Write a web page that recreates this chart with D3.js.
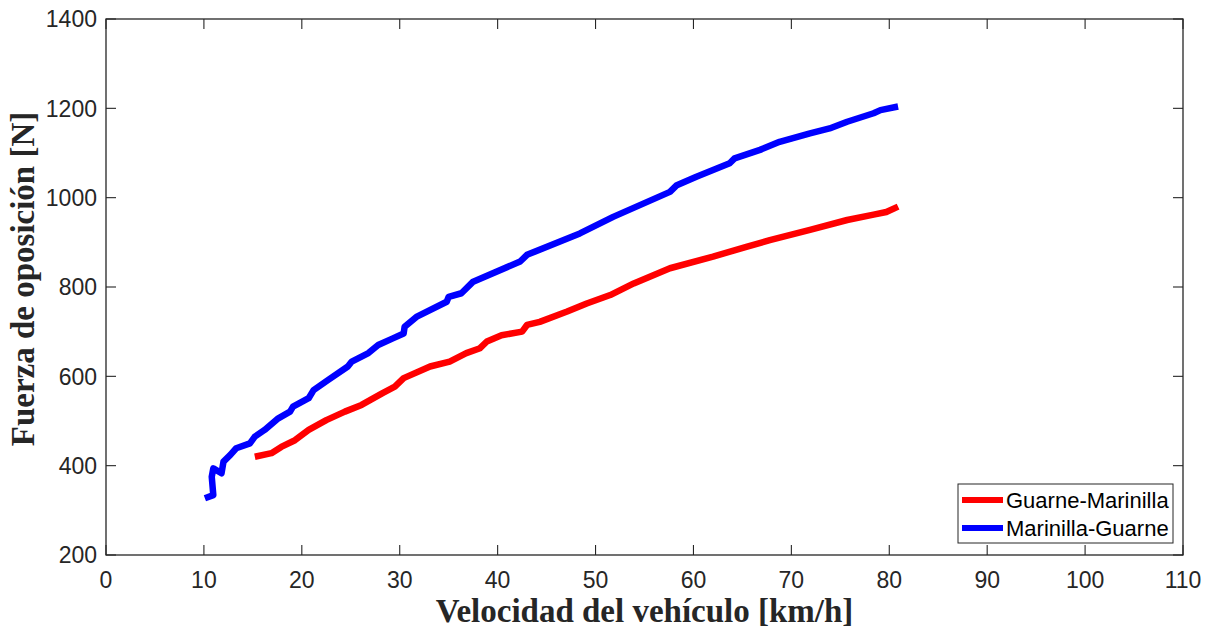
<!DOCTYPE html>
<html>
<head>
<meta charset="utf-8">
<script src="https://cdn.jsdelivr.net/npm/d3@7"></script>
<style>
	body { margin: 0; background: #fff; }
	svg text { fill: #262626; }
</style>
</head>
<body>
<div id="chart"></div>
<script>
// Guarne-Marinilla (red)
var gmSpeed = [15.2, 16.9, 17.9, 19.3, 20.7, 22.5, 24.4, 26.1, 28.2, 29.5, 30.4, 33.1, 35.1, 36.8, 38.2, 38.9, 40.4, 42.5, 43, 44.3, 47.1, 49.1, 51.5, 53.9, 57.6, 62, 65.4, 67.8, 71.9, 75.7, 78.4, 79.7, 80.9];
var gmForce = [420, 428, 442, 457, 480, 502, 521, 536, 562, 577, 596, 622, 633, 652, 663, 678, 692, 700, 715, 722, 745, 763, 782, 808, 842, 868, 890, 905, 928, 950, 962, 968, 980];
// Marinilla-Guarne (blue)
var mgSpeed = [10.1, 10.96, 10.8, 10.96, 11.8, 12, 12.7, 13.3, 14.7, 15.2, 16.2, 17.6, 18.8, 19.1, 20.7, 21.2, 22.7, 24.7, 25.1, 26.8, 27.8, 29.3, 30.4, 30.5, 31.7, 34.8, 35, 36.3, 37.5, 42.3, 43, 48.4, 51.8, 57.6, 58.3, 60.3, 63.7, 64.2, 66.8, 68.8, 71.9, 73.9, 75.7, 78.4, 79.1, 80.9];
var mgForce = [327, 334, 375, 394, 383, 409, 424, 439, 450, 465, 480, 506, 521, 532, 551, 569, 592, 622, 633, 652, 670, 685, 696, 711, 733, 767, 778, 786, 812, 857, 872, 920, 957, 1013, 1028, 1047, 1077, 1088, 1107, 1125, 1144, 1155, 1170, 1189, 1196, 1204];

var xTicks = [0, 10, 20, 30, 40, 50, 60, 70, 80, 90, 100, 110];
var yTicks = [200, 400, 600, 800, 1000, 1200, 1400];
var seriesNames = ["Guarne-Marinilla", "Marinilla-Guarne"];
var seriesColors = ["#ff0000", "#0000ff"];

var width = 1211, height = 633;
var mLeft = 106, mRight = 1183, mTop = 19, mBottom = 555;
var axisColor = "#262626";

var svg = d3.select("#chart").append("svg")
	.attr("width", width)
	.attr("height", height);

var x = d3.scaleLinear().domain([0, 110]).range([mLeft, mRight]);
var y = d3.scaleLinear().domain([200, 1400]).range([mBottom, mTop]);

// box
svg.append("rect")
	.attr("x", mLeft).attr("y", mTop)
	.attr("width", mRight - mLeft).attr("height", mBottom - mTop)
	.style("fill", "none").style("stroke", axisColor).style("stroke-width", 1.3);

var tickLen = 10;
var tickG = svg.append("g").style("stroke", axisColor).style("stroke-width", 1.1);
xTicks.forEach(function(t) {
	tickG.append("line").attr("x1", x(t)).attr("x2", x(t)).attr("y1", mBottom).attr("y2", mBottom - tickLen);
	tickG.append("line").attr("x1", x(t)).attr("x2", x(t)).attr("y1", mTop).attr("y2", mTop + tickLen);
	svg.append("text")
		.attr("x", x(t)).attr("y", 588)
		.attr("text-anchor", "middle")
		.style("font-family", "'Liberation Sans', Arial, sans-serif")
		.style("font-size", "23px")
		.text(t);
});
yTicks.forEach(function(t) {
	tickG.append("line").attr("x1", mLeft).attr("x2", mLeft + tickLen).attr("y1", y(t)).attr("y2", y(t));
	tickG.append("line").attr("x1", mRight).attr("x2", mRight - tickLen).attr("y1", y(t)).attr("y2", y(t));
	svg.append("text")
		.attr("x", 97).attr("y", y(t)).attr("dy", "0.36em")
		.attr("text-anchor", "end")
		.style("font-family", "'Liberation Sans', Arial, sans-serif")
		.style("font-size", "23px")
		.text(t);
});

// axis titles
svg.append("text")
	.attr("x", (mLeft + mRight) / 2).attr("y", 622)
	.attr("text-anchor", "middle")
	.style("font-family", "'Liberation Serif', 'Times New Roman', serif")
	.style("font-weight", "bold")
	.style("font-size", "33px")
	.text("Velocidad del vehículo [km/h]");
svg.append("text")
	.attr("transform", "translate(34," + ((mTop + mBottom) / 2 - 8) + ") rotate(-90)")
	.attr("text-anchor", "middle")
	.style("font-family", "'Liberation Serif', 'Times New Roman', serif")
	.style("font-weight", "bold")
	.style("font-size", "33px")
	.text("Fuerza de oposición [N]");

// curves
var line = d3.line().x(function(d) { return x(d[0]); }).y(function(d) { return y(d[1]); });
var series = [
	d3.zip(gmSpeed, gmForce),
	d3.zip(mgSpeed, mgForce)
];
series.forEach(function(s, i) {
	svg.append("path")
		.attr("d", line(s))
		.style("fill", "none")
		.style("stroke", seriesColors[i])
		.style("stroke-width", 6.5)
		.style("stroke-linejoin", "round");
});

// legend
var legendG = svg.append("g");
legendG.append("rect")
	.attr("x", 958).attr("y", 484).attr("width", 215).attr("height", 59)
	.style("fill", "#fff").style("stroke", axisColor).style("stroke-width", 1);
seriesNames.forEach(function(name, i) {
	var ly = 500 + i * 28;
	legendG.append("line")
		.attr("x1", 962).attr("x2", 1003).attr("y1", ly).attr("y2", ly)
		.style("stroke", seriesColors[i]).style("stroke-width", 6);
	legendG.append("text")
		.attr("x", 1006).attr("y", ly).attr("dy", "0.36em")
		.style("font-family", "'Liberation Sans', Arial, sans-serif")
		.style("font-size", "22px")
		.style("fill", "#000")
		.text(name);
});
</script>
</body>
</html>
